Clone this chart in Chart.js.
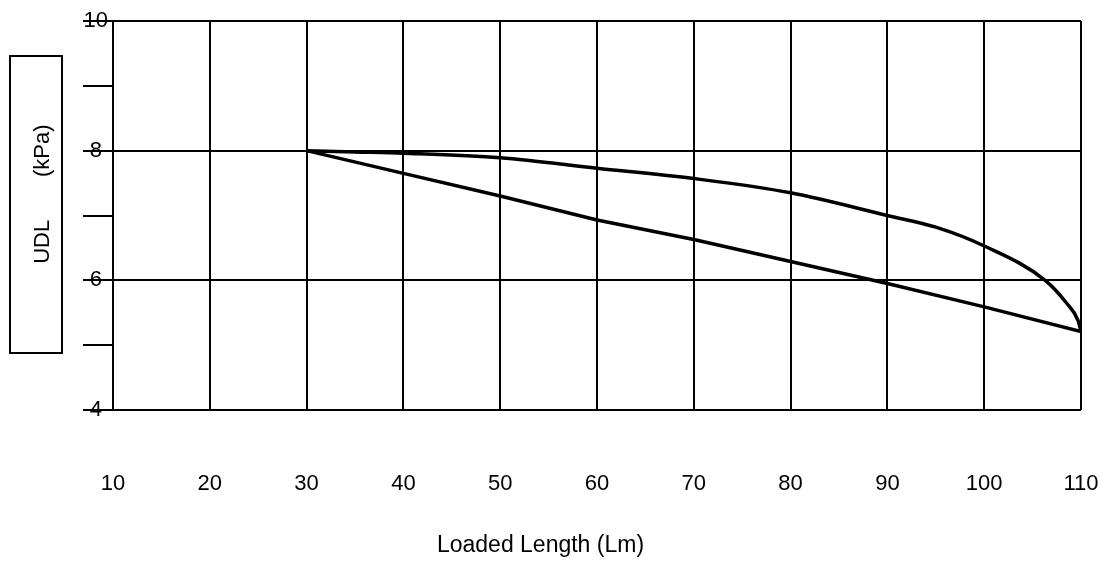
<!DOCTYPE html>
<html>
<head>
<meta charset="utf-8">
<script src="https://cdn.jsdelivr.net/npm/chart.js@4/dist/chart.umd.min.js"></script>
<style>
  body { margin: 0; background: #fff; }
</style>
</head>
<body>
<canvas id="chart" width="1099" height="567"></canvas>
<script>
// values
const upperLength = [30, 35, 40, 50, 60, 70, 80, 90, 95, 100, 106.3, 108.5, 109.7, 110]
const upperUdl = [8.0, 7.98, 7.96, 7.89, 7.73, 7.57, 7.35, 7.0, 6.82, 6.53, 6.0, 5.65, 5.38, 5.21]
const lowerLength = [30, 40, 50, 60, 70, 80, 90, 100, 110]
const lowerUdl = [8.0, 7.65, 7.3, 6.93, 6.63, 6.29, 5.95, 5.59, 5.21]

const xTicks = [10, 20, 30, 40, 50, 60, 70, 80, 90, 100, 110]
const yTicks = [4, 5, 6, 7, 8, 9, 10]
const yLabelled = [4, 6, 8, 10]

const FONT = '"Liberation Sans", Arial, sans-serif'
const TITLE_H = 23 * 1.2 + 8

function toPoints(xs, ys){
  return xs.map((x, i) => ({x: x, y: ys[i]}))
}

// rectangle round the y axis title, as in the original
const titleBox = {
  id: 'titleBox',
  afterDraw(chart){
    const ctx = chart.ctx
    ctx.save()
    ctx.strokeStyle = '#000'
    ctx.lineWidth = 2
    ctx.strokeRect(10, 56, 52, 297)
    ctx.restore()
  }
}

const data = {
  datasets: [{
    label: 'upper',
    data: toPoints(upperLength, upperUdl),
    borderColor: '#000',
    borderWidth: 3.5,
    pointRadius: 0,
    fill: false,
    cubicInterpolationMode: 'monotone'
  }, {
    label: 'lower',
    data: toPoints(lowerLength, lowerUdl),
    borderColor: '#000',
    borderWidth: 3.5,
    pointRadius: 0,
    fill: false,
    tension: 0
  }]
}

const config = {
  type: 'line',
  data: data,
  options: {
    responsive: false,
    animation: false,
    layout: {
      padding: {top: 21, left: 0, right: 18, bottom: 0}
    },
    plugins: {
      legend: {display: false},
      tooltip: {enabled: false},
      title: {
        display: true,
        text: 'Loaded Length (Lm)',
        position: 'bottom',
        color: '#000',
        font: {family: FONT, size: 23, weight: 'normal', lineHeight: 1.2},
        padding: {top: 0, bottom: 8}
      }
    },
    scales: {
      x: {
        type: 'linear',
        min: xTicks[0],
        max: xTicks[xTicks.length - 1],
        afterBuildTicks: (scale) => { scale.ticks = xTicks.map(v => ({value: v})) },
        afterFit: (scale) => { scale.height = 567 - 410 - TITLE_H },
        grid: {
          color: '#000',
          lineWidth: 2,
          tickColor: 'rgba(0,0,0,0)',
          tickLength: 61
        },
        border: {display: false},
        ticks: {
          color: '#000',
          padding: 0,
          maxRotation: 0,
          font: {family: FONT, size: 22}
        }
      },
      y: {
        min: yTicks[0],
        max: yTicks[yTicks.length - 1],
        afterBuildTicks: (scale) => { scale.ticks = yTicks.map(v => ({value: v})) },
        afterFit: (scale) => { scale.width = 113 },
        grid: {
          color: (c) => yLabelled.includes(c.tick.value) ? '#000' : 'rgba(0,0,0,0)',
          tickColor: '#000',
          lineWidth: 2,
          tickLength: 30
        },
        border: {color: '#000', width: 2},
        ticks: {
          color: '#000',
          crossAlign: 'center',
          padding: -25,
          font: {family: FONT, size: 22},
          callback: (v) => yLabelled.includes(v) ? String(v) : ''
        },
        title: {
          display: true,
          text: '       UDL       (kPa)',
          color: '#000',
          font: {family: FONT, size: 22, weight: 'normal', lineHeight: 1.2},
          padding: {top: 30, bottom: 0}
        }
      }
    }
  },
  plugins: [titleBox]
}

const chart = new Chart(document.getElementById('chart'), config)
</script>
</body>
</html>
